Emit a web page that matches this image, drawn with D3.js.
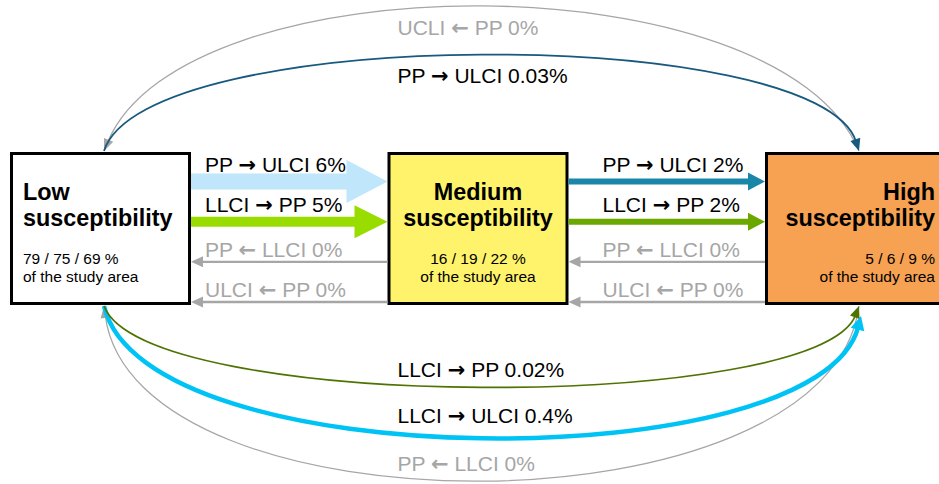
<!DOCTYPE html>
<html><head><meta charset="utf-8">
<script src="https://cdn.jsdelivr.net/npm/d3@7"></script>
<style>html,body{margin:0;padding:0;background:#fff;overflow:hidden}
text{font-family:"Liberation Sans",Arial,sans-serif}
tspan.arr{font-family:"DejaVu Sans",sans-serif;font-weight:bold}</style>
</head><body><svg id="c" width="939" height="484"></svg>
<script>
// ---------------- data ----------------
const classes = ["Low", "Medium", "High"];
const classSuffix = "susceptibility";
const areaShares = ["79 / 75 / 69 %", "16 / 19 / 22 %", "5 / 6 / 9 %"];
const areaNote = "of the study area";

// flows between neighbouring classes (gap 0: Low-Medium, gap 1: Medium-High)
const neighbourLabels = [
  ["PP → ULCI 6%", "LLCI → PP 5%", "PP ← LLCI 0%", "ULCI ← PP 0%"],
  ["PP → ULCI 2%", "LLCI → PP 2%", "PP ← LLCI 0%", "ULCI ← PP 0%"]
];
const neighbourValues = [[6, 5, 0, 0], [2, 2, 0, 0]];
const neighbourDirection = [[1, 1, -1, -1], [1, 1, -1, -1]];

// flows Low <-> High drawn as arcs
const topArcLabels = ["UCLI ← PP 0%", "PP → ULCI 0.03%"];
const topArcValues = [0, 0.03];
const topArcDirection = [-1, 1];
const bottomArcLabels = ["LLCI → PP 0.02%", "LLCI → ULCI 0.4%", "PP ← LLCI 0%"];
const bottomArcValues = [0.02, 0.4, 0];
const bottomArcDirection = [1, 1, -1];

// ---------------- styles ----------------
const boxFills = ["#ffffff", "#fff36c", "#f6a252"];
const neighbourColors = [["#bfe6fa", "#99dd00", "#a6a6a6", "#a6a6a6"],
                         ["#1a86a8", "#6aa800", "#a6a6a6", "#a6a6a6"]];
const topArcColors = ["#a6a6a6", "#17597f"];
const bottomArcColors = ["#4e7300", "#00c3f5", "#a6a6a6"];
const grey = "#a6a6a6";

const svg = d3.select("#c");

// ---------------- scales ----------------
const x = d3.scaleBand().domain(classes).range([10, 946]).paddingInner(0.5205).paddingOuter(0);
const lane = d3.scalePoint().domain([0, 1, 2, 3]).range([181.5, 302]);
const boxTop = 152, boxBottom = 304;

const straightWidth = d3.scaleLinear().domain([0, 2, 5, 6]).range([2.4, 6, 10, 16]);
const straightHeadLen = d3.scaleLinear().domain([0, 2, 5, 6]).range([12, 17, 33, 41]);
const straightHeadW = d3.scaleLinear().domain([0, 2, 5, 6]).range([11, 18, 33, 43]);
const arcWidth = d3.scaleLinear().domain([0, 0.03, 0.4]).range([1.3, 1.8, 4.5]);
const arcHeadLen = d3.scaleLinear().domain([0, 0.4]).range([12, 14]);
const arcHeadW = d3.scaleLinear().domain([0, 0.4]).range([10, 14]);

const textColor = v => v === 0 ? grey : "#000";
const labelSize = 21;

function addLabel(t, s) {
  s.split(/([→←])/).forEach(part => {
    if (!part) return;
    const ts = t.append("tspan").text(part);
    if (part === "→" || part === "←") ts.attr("class", "arr");
  });
  return t;
}

// ---------------- boxes ----------------
const anchors = ["start", "middle", "end"];
classes.forEach((c, i) => {
  const x0 = x(c), bw = x.bandwidth();
  svg.append("rect").attr("x", x0 + 1.5).attr("y", boxTop + 1.5)
    .attr("width", bw - 3).attr("height", boxBottom - boxTop - 2)
    .attr("fill", boxFills[i]).attr("stroke", "#000").attr("stroke-width", 3);
  const tx = i === 0 ? x0 + 13 : i === 1 ? x0 + bw / 2 : x0 + bw - 11;
  const g = svg.append("g").attr("text-anchor", anchors[i]);
  g.append("text").attr("x", tx).attr("y", 200).attr("font-size", 23.4).attr("font-weight", "bold").text(c);
  g.append("text").attr("x", tx).attr("y", 226).attr("font-size", 23.4).attr("font-weight", "bold").text(classSuffix);
  g.append("text").attr("x", tx).attr("y", 264).attr("font-size", 15.5).text(areaShares[i]);
  g.append("text").attr("x", tx).attr("y", 282).attr("font-size", 15.5).text(areaNote);
});

// ---------------- straight arrows ----------------
const labelOffset = [14, 34];
const labelDy = [-9.5, -9.5, -4.5, -5.5];
neighbourLabels.forEach((labels, gi) => {
  const left = x(classes[gi]) + x.bandwidth();
  const right = x(classes[gi + 1]);
  labels.forEach((lab, r) => {
    const v = neighbourValues[gi][r], dir = neighbourDirection[gi][r];
    const col = neighbourColors[gi][r];
    const y = lane(r);
    const w = straightWidth(v), hl = straightHeadLen(v), hw = straightHeadW(v);
    let pts;
    if (dir > 0) {
      const b = right - hl;
      pts = [[left, y - w / 2], [b, y - w / 2], [b, y - hw / 2], [right, y], [b, y + hw / 2], [b, y + w / 2], [left, y + w / 2]];
    } else {
      const b = left + hl;
      pts = [[right, y - w / 2], [b, y - w / 2], [b, y - hw / 2], [left, y], [b, y + hw / 2], [b, y + w / 2], [right, y + w / 2]];
    }
    svg.append("path").attr("d", d3.line()(pts) + "Z").attr("fill", col);
    addLabel(svg.append("text").attr("x", left + labelOffset[gi]).attr("y", y + labelDy[r])
      .attr("font-size", labelSize).attr("fill", textColor(v)), lab);
  });
});

// ---------------- arcs ----------------
const xs = x("Low") + x.bandwidth() / 2 + 3.5;
const xe = x("High") + x.bandwidth() / 2 + 3.5;
const labelX = (xs + xe) / 2 - 84;

function drawArc(yBase, sign, depth, handle, dir, v, col, label, labelY, tipShift) {
  const P0 = [xs, yBase], P1 = [xs + handle, yBase + sign * depth],
        P2 = [xe - handle, yBase + sign * depth], P3 = [xe + tipShift[0], yBase + tipShift[1]];
  const pts = dir > 0 ? [P0, P1, P2, P3] : [P3, P2, P1, P0];
  const w = arcWidth(v), hl = arcHeadLen(v), hw = arcHeadW(v);
  const tip = pts[3];
  const dx = tip[0] - pts[2][0], dy = tip[1] - pts[2][1];
  const L = Math.hypot(dx, dy), ux = dx / L, uy = dy / L;
  const end = [tip[0] - ux * hl * 0.8, tip[1] - uy * hl * 0.8];
  const p = d3.path();
  p.moveTo(pts[0][0], pts[0][1]);
  p.bezierCurveTo(pts[1][0], pts[1][1], pts[2][0], pts[2][1], end[0], end[1]);
  svg.append("path").attr("d", p.toString()).attr("fill", "none").attr("stroke", col).attr("stroke-width", w);
  const bx = tip[0] - ux * hl, by = tip[1] - uy * hl;
  const px = -uy, py = ux;
  svg.append("path").attr("d", d3.line()([[tip[0], tip[1]], [bx + px * hw / 2, by + py * hw / 2], [bx - px * hw / 2, by - py * hw / 2]]) + "Z")
    .attr("fill", col);
  addLabel(svg.append("text").attr("x", labelX).attr("y", labelY).attr("font-size", labelSize)
    .attr("fill", textColor(v)), label);
}

const topDepth = [192, 127], topHandle = [80, 40];
topArcLabels.forEach((lab, i) => {
  const peak = 151 - 0.75 * topDepth[i];
  drawArc(151, -1, topDepth[i], topHandle[i], topArcDirection[i], topArcValues[i], topArcColors[i], lab, peak + 27.5, [0, 0]);
});
const bottomDepth = [107, 173, 232], bottomHandle = [40, 40, 30];
const bottomTipShift = [[0, 0], [2, 10], [0, 0]];
[2, 1, 0].forEach(i => {
  const lab = bottomArcLabels[i];
  const peak = 306 + 0.75 * bottomDepth[i];
  const v = bottomArcValues[i];
  drawArc(306, 1, bottomDepth[i], bottomHandle[i], bottomArcDirection[i], v, bottomArcColors[i], lab, peak - 8 - arcWidth(v), bottomTipShift[i]);
});
</script></body></html>
